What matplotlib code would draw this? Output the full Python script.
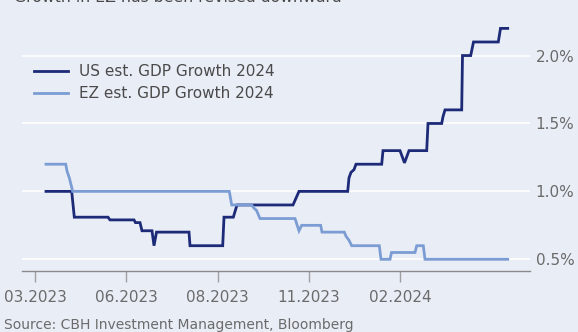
import numpy as np
import matplotlib
matplotlib.use('Agg')
import matplotlib.pyplot as plt

# x is days counted from the first tick (03.2023)
usX = [11, 36.7, 39.3, 73, 75, 99, 100.5, 105, 107, 117, 119, 121.5, 154, 155,
       187.7, 189, 198.3, 202, 258, 261, 264, 312.7, 314, 316, 319, 321, 346.7,
       348, 365, 369.5, 371.5, 374, 391.7, 393, 406.7, 408, 410, 426.7, 427.5,
       435.7, 438.5, 463.3, 465.5, 472.7]
usY = [1.0, 1.0, 0.81, 0.81, 0.79, 0.79, 0.77, 0.77, 0.71, 0.71, 0.60, 0.70, 0.70, 0.60,
       0.60, 0.81, 0.81, 0.90, 0.90, 0.95, 1.0, 1.0, 1.10, 1.14, 1.16, 1.20, 1.20,
       1.30, 1.30, 1.21, 1.25, 1.30, 1.30, 1.50, 1.50, 1.55, 1.60, 1.60, 2.0,
       2.0, 2.10, 2.10, 2.20, 2.20]

ezX = [11, 30.7, 32, 34.3, 37.7, 194.3, 196.7, 216.7, 218.5, 221.5, 225, 260, 264,
       266.7, 285.7, 287, 309.3, 311, 314, 316.7, 344.3, 346, 355, 356.5, 380,
       381.7, 388.3, 390, 472.7]
ezY = [1.2, 1.2, 1.15, 1.1, 1.0, 1.0, 0.9, 0.9, 0.88, 0.86, 0.80, 0.80, 0.71,
       0.75, 0.75, 0.70, 0.70, 0.67, 0.64, 0.60, 0.60, 0.50, 0.50, 0.55, 0.55,
       0.60, 0.60, 0.50, 0.50]

tickPos = [0, 91.3, 182.6, 273.9, 365.2]
tickLabels = ['03.2023', '06.2023', '08.2023', '11.2023', '02.2024']
yTicks = [0.5, 1.0, 1.5, 2.0]

bg = '#e9edf6'
usColor = '#1c2a78'
ezColor = '#7b9dd4'
grey = '#6b6b6b'

fig = plt.figure(figsize=(5.78, 3.32), dpi=100, facecolor=bg)
ax = fig.add_axes([22 / 578, 1 - 270.7 / 332, 508 / 578, (270.7 - 21.6) / 332])
ax.set_facecolor(bg)

ax.plot(usX, usY, color=usColor, lw=2.0, label='US est. GDP Growth 2024', solid_joinstyle='miter')
ax.plot(ezX, ezY, color=ezColor, lw=2.0, label='EZ est. GDP Growth 2024', solid_joinstyle='miter')

ax.set_xlim(-13, 495)
ax.set_ylim(0.416, 2.25)

ax.set_yticks(yTicks)
ax.set_yticklabels(['%.1f%%' % v for v in yTicks])
ax.yaxis.tick_right()
ax.tick_params(axis='y', length=0, pad=4, labelsize=11, labelcolor=grey)
ax.grid(axis='y', color='white', lw=1.2)
ax.set_axisbelow(True)

ax.set_xticks(tickPos)
ax.set_xticklabels(tickLabels)
ax.tick_params(axis='x', length=8, width=1, color='#a0a0a0', pad=6, labelsize=11, labelcolor=grey)

for s in ['top', 'left', 'right']:
    ax.spines[s].set_visible(False)
ax.spines['bottom'].set_color('#8a8a8a')
ax.spines['bottom'].set_linewidth(1)

fig.legend(loc='upper left', bbox_to_anchor=(34 / 578, 1 - 64 / 332), bbox_transform=fig.transFigure,
           frameon=False, fontsize=11, handlelength=2.2, handletextpad=0.75, labelspacing=0.45,
           borderpad=0, borderaxespad=0, labelcolor='#4a4a4a')

# title line sits mostly above the visible area, as in the reference crop
fig.text(14 / 578, 1 - 1.5 / 332, 'Growth in EZ has been revised downward', fontsize=11.3,
         color='#4a4a4a', va='baseline', ha='left')
fig.text(4 / 578, 1 - 329 / 332, 'Source: CBH Investment Management, Bloomberg', fontsize=10,
         color=grey, va='baseline', ha='left')

fig.savefig('out.png', dpi=100, facecolor=bg)
